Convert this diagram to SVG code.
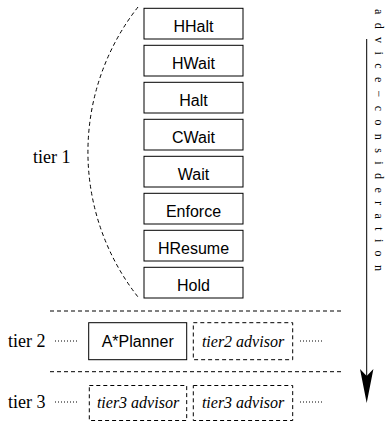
<svg xmlns="http://www.w3.org/2000/svg" width="386" height="422" viewBox="0 0 386 422">
<style>
.box{fill:#fff;stroke:#000;stroke-width:1}
.dbox{fill:none;stroke:#000;stroke-width:1;stroke-dasharray:4 3}
.lbl{font-family:"Liberation Sans",Arial,sans-serif;font-size:16px;text-anchor:middle;fill:#000}
.it{font-family:"Liberation Serif","Times New Roman",serif;font-style:italic;font-size:16px;text-anchor:middle;fill:#000}
.tier{font-family:"Liberation Serif","Times New Roman",serif;font-size:18px;fill:#000}
.dash{stroke:#000;stroke-width:1;stroke-dasharray:4 3;fill:none}
.dot{stroke:#000;stroke-width:1;stroke-dasharray:1 2;fill:none}
</style>
<rect width="386" height="422" fill="#fff"/>
<g id="connectors">
<path class="dash" d="M138,7 A235,235 0 0 0 138,297"/>
<line class="dash" x1="50" y1="311" x2="341" y2="311"/>
<line class="dash" x1="50" y1="371.7" x2="341" y2="371.7"/>
<line class="dot" x1="55" y1="341" x2="79" y2="341"/>
<line class="dot" x1="300" y1="341" x2="322" y2="341"/>
<line class="dot" x1="55" y1="402" x2="79" y2="402"/>
<line class="dot" x1="300" y1="402" x2="322" y2="402"/>
<line x1="366.7" y1="39" x2="366.7" y2="377" stroke="#000" stroke-width="1"/>
<polygon points="366.7,403 360,369 366.7,376 373.4,369" fill="#000"/>
</g>
<g id="labels">
<text class="tier" x="33" y="162.7">tier 1</text>
<text class="tier" x="8" y="346.7">tier 2</text>
<text class="tier" x="8" y="408">tier 3</text>
<text transform="translate(375,9) rotate(90)" font-family="'Liberation Serif','Times New Roman',serif" font-size="12" textLength="262" lengthAdjust="spacing">advice−consideration</text>
</g>
<g id="HHalt"><rect class="box" x="144" y="8.3" width="99" height="30.7"/><text class="lbl" x="193.5" y="31.7">HHalt</text></g>
<g id="HWait"><rect class="box" x="144" y="45.3" width="99" height="30.7"/><text class="lbl" x="193.5" y="68.7">HWait</text></g>
<g id="Halt"><rect class="box" x="144" y="82.3" width="99" height="30.7"/><text class="lbl" x="193.5" y="105.7">Halt</text></g>
<g id="CWait"><rect class="box" x="144" y="119.3" width="99" height="30.7"/><text class="lbl" x="193.5" y="142.7">CWait</text></g>
<g id="Wait"><rect class="box" x="144" y="156.3" width="99" height="30.7"/><text class="lbl" x="193.5" y="179.7">Wait</text></g>
<g id="Enforce"><rect class="box" x="144" y="193.3" width="99" height="30.7"/><text class="lbl" x="193.5" y="216.7">Enforce</text></g>
<g id="HResume"><rect class="box" x="144" y="230.3" width="99" height="30.7"/><text class="lbl" x="193.5" y="253.7">HResume</text></g>
<g id="Hold"><rect class="box" x="144" y="267.3" width="99" height="30.7"/><text class="lbl" x="193.5" y="290.7">Hold</text></g>
<g id="APlanner"><rect class="box" x="88.7" y="322.7" width="98" height="37"/><text class="lbl" x="137.7" y="346.7">A*Planner</text></g>
<g id="tier2advisor"><rect class="dbox" x="193.3" y="322.7" width="99.4" height="37"/><text class="it" x="243" y="346.5">tier2 advisor</text></g>
<g id="tier3advisor1"><rect class="dbox" x="89.3" y="385.5" width="97.4" height="35"/><text class="it" x="138" y="408">tier3 advisor</text></g>
<g id="tier3advisor2"><rect class="dbox" x="193.3" y="385.5" width="99.4" height="35"/><text class="it" x="243" y="408">tier3 advisor</text></g>
</svg>
